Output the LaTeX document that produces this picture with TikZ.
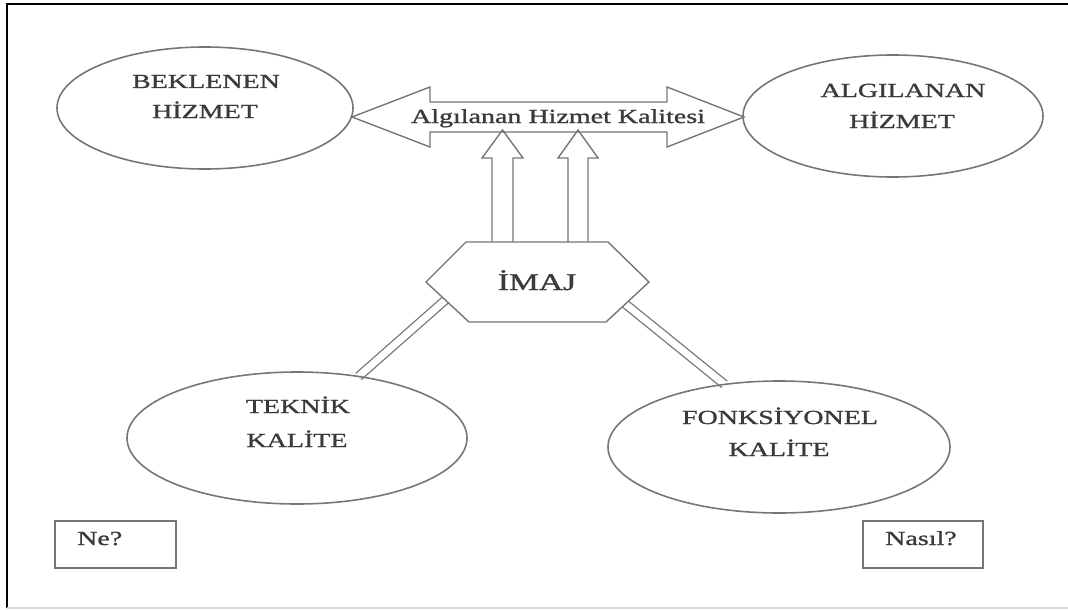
\documentclass[tikz,border=0pt]{standalone}
\usepackage{fontspec}
\setmainfont{Liberation Serif}
\newfontfamily\widefont[FakeStretch=1.4,FakeBold=1.2]{Liberation Serif}
\usetikzlibrary{calc,backgrounds,shapes.geometric}
\definecolor{txtc}{RGB}{58,58,58}
\definecolor{lnc}{RGB}{118,118,118}
\begin{document}
\begin{tikzpicture}[x=1pt,y=-1pt,
  ell/.style={draw=lnc, line width=1.6pt, ellipse, inner sep=0pt, outer sep=0pt},
  txt/.style={text=txtc, font=\widefont\fontsize{20}{24}\selectfont, inner sep=0pt, anchor=base},
  bigtxt/.style={text=txtc, font=\widefont\fontsize{24}{28}\selectfont, inner sep=0pt, anchor=base},
  qbox/.style={draw=lnc, line width=1.8pt, rectangle, inner sep=0pt, outer sep=0pt, anchor=north west},
  shp/.style={draw=lnc, line width=1.4pt, line join=miter, fill=white},
  dbl/.style={draw=lnc, line width=1.3pt, double=white, double distance=7pt},
]
\useasboundingbox (0,0) rectangle (1068,610);
% frame
\draw[black, line width=2.6pt] (7,608) -- (7,4) -- (1068,4);
\draw[black!15, line width=1.5pt] (7,608) -- (1068,608);

% ellipses
\node[ell, minimum width=296pt, minimum height=122pt] (bek) at (205,108) {};
\node[ell, minimum width=300pt, minimum height=122pt] (alg) at (893,116) {};
\node[ell, minimum width=340pt, minimum height=132pt] (tek) at (297,438) {};
\node[ell, minimum width=342pt, minimum height=132pt] (fon) at (779,447) {};

\node[txt] (bek1) at (206,88) {BEKLENEN};
\node[txt] (bek2) at (205,118) {HİZMET};
\node[txt] (alg1) at (903,97) {ALGILANAN};
\node[txt] (alg2) at (902,128) {HİZMET};
\node[txt] (tek1) at (298,413) {TEKNİK};
\node[txt] (tek2) at (297,447) {KALİTE};
\node[txt] (fon1) at (780,424) {FONKSİYONEL};
\node[txt] (fon2) at (779,456) {KALİTE};

% hexagon
\coordinate (hL) at (426,282);
\coordinate (hTL) at (466,242);
\coordinate (hTR) at (608,242);
\coordinate (hR) at (649,282);
\coordinate (hBR) at (606,322);
\coordinate (hBL) at (469,322);

% double connectors (behind)
\begin{scope}[on background layer]
\draw[dbl] ($(hL)!0.45!(hBL)$) -- (tek.45.5);
\draw[dbl] ($(hR)!0.55!(hBR)$) -- (fon.131.5);
\end{scope}

\draw[shp] (hL) -- (hTL) -- (hTR) -- (hR) -- (hBR) -- (hBL) -- cycle;
\node[bigtxt] (imaj) at (537,290) {İMAJ};

% big double block arrow
\coordinate (aL) at (352,117);
\coordinate (aR) at (744,117);
\draw[shp] (aL) -- (430,87) -- (430,102) -- (667,102) -- (667,87) -- (aR)
  -- (667,147) -- (667,132) -- (430,132) -- (430,147) -- cycle;
\node[txt] (ahk) at (558,123) {Algılanan Hizmet Kalitesi};

% up block arrows
\draw[shp, fill=none] (492,242) -- (492,158) -- (482,158) -- (502.5,130) -- (523,158) -- (513,158) -- (513,242);
\draw[shp, fill=none] (568,242) -- (568,158) -- (558,158) -- (578,130) -- (598,158) -- (588,158) -- (588,242);

% question boxes
\node[qbox, minimum width=121pt, minimum height=47pt] (ne) at (55,521) {};
\node[txt, anchor=base west] (netxt) at (77,545) {Ne?};
\node[qbox, minimum width=120pt, minimum height=47pt] (nasil) at (863,521) {};
\node[txt, anchor=base west] (nasiltxt) at (885,545) {Nasıl?};
\end{tikzpicture}
\end{document}
